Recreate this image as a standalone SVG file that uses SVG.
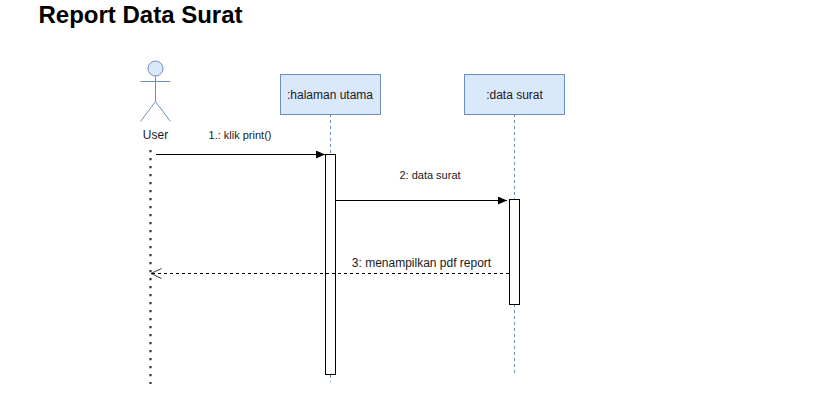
<svg xmlns="http://www.w3.org/2000/svg" width="826" height="402" viewBox="0 0 826 402">
<style>
text{font-family:"Liberation Sans",Arial,sans-serif;fill:#1a1a1a}
.title{font-size:24px;font-weight:bold;fill:#000}
.t{font-size:12px;text-anchor:middle}
.m{font-size:11px;text-anchor:middle}
.box{fill:#dae8fc;stroke:#6c8ebf;stroke-width:1}
.life{fill:none;stroke:#6c8ebf;stroke-width:1;stroke-dasharray:3 3}
.act{fill:#fff;stroke:#000;stroke-width:1}
.c{fill:none;stroke:#000;stroke-width:1}
.actor{fill:none;stroke:#6c8ebf;stroke-width:1}
</style>
<defs>
<marker id="solid" markerUnits="userSpaceOnUse" markerWidth="10" markerHeight="10" refX="9" refY="4" orient="auto"><path d="M0 0L9 4L0 8Z" fill="#000"/></marker>
<marker id="open" markerUnits="userSpaceOnUse" markerWidth="12" markerHeight="12" refX="10.500" refY="6" orient="auto"><path d="M0 1L10.500 6L0 11" fill="none" stroke="#000" stroke-width="0.800"/></marker>
</defs>
<rect width="826" height="402" fill="#fff"/>
<text class="title" x="38.500" y="23">Report Data Surat</text>
<g id="user">
<circle cx="155.500" cy="68.500" r="7.500" fill="#dae8fc" stroke="#6c8ebf"/>
<path class="actor" d="M155.500 76V101.500M140.500 81.500H170.500M140.500 121.500L155.500 101.500L170.500 121.500"/>
<text class="t" x="155.500" y="139">User</text>
<path d="M150.500 150V384" fill="none" stroke="#333" stroke-width="2.200" stroke-dasharray="2.200 5.800"/>
</g>
<g id="halaman-utama">
<path class="life" d="M330.500 114V154M330.500 375V382"/>
<rect class="box" x="280.500" y="74.500" width="100" height="40"/>
<text class="t" x="330" y="99">:halaman utama</text>
<rect class="act" x="325.500" y="154.500" width="10" height="220"/>
</g>
<g id="data-surat">
<path class="life" d="M514.500 114V199M514.500 304V375"/>
<rect class="box" x="464.500" y="74.500" width="100" height="40"/>
<text class="t" x="514.500" y="99">:data surat</text>
<rect class="act" x="509.500" y="199.500" width="10" height="105"/>
</g>
<g id="connectors">
<path class="c" d="M156 154.500H325" marker-end="url(#solid)"/>
<path class="c" d="M336 200.500H507" marker-end="url(#solid)"/>
<path class="c" d="M509 273.500H151" stroke-dasharray="3 3" marker-end="url(#open)"/>
<text class="m" x="240" y="139">1.: klik print()</text>
<text class="m" x="430" y="179">2: data surat</text>
<text class="t" x="421.500" y="267">3: menampilkan pdf report</text>
</g>
</svg>
